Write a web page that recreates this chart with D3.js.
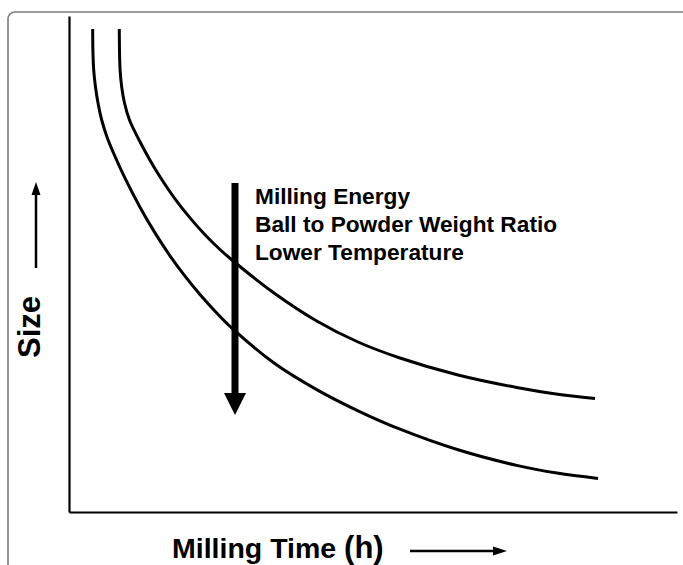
<!DOCTYPE html>
<html>
<head>
<meta charset="utf-8">
<script src="https://cdn.jsdelivr.net/npm/d3@7"></script>
<style>
html,body{margin:0;padding:0;background:#fff;}
svg{display:block;}
text{font-family:"Liberation Sans", Arial, sans-serif;font-weight:bold;fill:#000;}
</style>
</head>
<body>
<script>
const upperTime = [5.03, 5.05, 5.11, 5.27, 5.55, 6.05, 7.10, 8.10, 9.10, 10.60, 12.10, 13.60, 15.10, 16.30, 20.50, 24.77, 28.90, 33.10, 38.90, 44.77, 48.70, 52.60];
const upperSize = [48.30, 46.20, 44.20, 42.50, 40.90, 39.20, 37.02, 35.18, 33.52, 31.31, 29.41, 27.73, 26.25, 25.20, 21.90, 19.10, 17.00, 15.40, 13.70, 12.45, 11.80, 11.35];
const lowerTime = [2.37, 2.39, 2.47, 2.65, 2.90, 3.27, 3.80, 4.45, 5.60, 7.10, 8.60, 10.10, 11.60, 13.10, 14.70, 16.30, 20.50, 24.77, 28.90, 33.10, 38.90, 44.77, 48.80, 52.90];
const lowerSize = [48.30, 46.20, 44.20, 42.50, 40.90, 39.20, 37.50, 35.90, 33.38, 30.48, 27.91, 25.62, 23.58, 21.75, 19.98, 18.38, 14.90, 12.24, 10.12, 8.28, 6.22, 4.66, 3.89, 3.36];
const factorLabels = ["Milling Energy", "Ball to Powder Weight Ratio", "Lower Temperature"];
const arrowTime = 16.6, arrowFrom = 32.9, arrowTo = 9.7;
const xLabel = "Milling Time ", xUnit = "(h)", yLabel = "Size";

const W = 683, H = 565;
const svg = d3.select("body").append("svg").attr("width", W).attr("height", H);

// outer rounded frame
svg.append("rect").attr("x", 8).attr("y", 12).attr("width", 690).attr("height", 600)
  .attr("rx", 7).attr("fill", "none").attr("stroke", "#7a7a7a").attr("stroke-width", 1.6);

const x = d3.scaleLinear().domain([0, 60.8]).range([69, 677]);
const y = d3.scaleLinear().domain([0, 49.6]).range([512, 16]);

// axes (no ticks)
svg.append("g").attr("transform", `translate(0,${y(0)})`)
  .call(d3.axisBottom(x).tickValues([]).tickSizeOuter(0));
svg.append("g").attr("transform", `translate(${x(0)},0)`)
  .call(d3.axisLeft(y).tickValues([]).tickSizeOuter(0));
svg.selectAll(".domain").attr("stroke", "#000").attr("stroke-width", 2.2);

// curves
const line = d3.line().x(d => x(d[0])).y(d => y(d[1])).curve(d3.curveCatmullRom.alpha(0.5));
[[upperTime, upperSize], [lowerTime, lowerSize]].forEach(([t, s]) => {
  svg.append("path").datum(t.map((v, i) => [v, s[i]]))
    .attr("d", line).attr("fill", "none").attr("stroke", "#000")
    .attr("stroke-width", 3).attr("stroke-linecap", "butt");
});

// big downward arrow
const ax = x(arrowTime), headLen = 22, headW = 11;
svg.append("line").attr("x1", ax).attr("x2", ax).attr("y1", y(arrowFrom)).attr("y2", y(arrowTo) - headLen + 1)
  .attr("stroke", "#000").attr("stroke-width", 7);
svg.append("path").attr("d", `M${ax - headW},${y(arrowTo) - headLen} L${ax + headW},${y(arrowTo) - headLen} L${ax},${y(arrowTo)} Z`)
  .attr("fill", "#000");

// factor labels
svg.append("g").selectAll("text").data(factorLabels).join("text")
  .attr("x", 255).attr("y", (d, i) => 203.5 + i * 28.3)
  .attr("font-size", 22.7).text(d => d);

// x label
const xl = svg.append("text").attr("x", 172).attr("y", 558).attr("font-size", 28.5);
xl.append("tspan").text(xLabel);
xl.append("tspan").attr("font-size", 31).text(xUnit);
// right arrow
svg.append("line").attr("x1", 410).attr("x2", 495).attr("y1", 551).attr("y2", 551)
  .attr("stroke", "#000").attr("stroke-width", 2.5);
svg.append("path").attr("d", "M493,546.5 L507,551 L493,555.5 Z").attr("fill", "#000");

// y label
svg.append("text").attr("transform", "translate(40,327) rotate(-90)")
  .attr("text-anchor", "middle").attr("font-size", 31).text(yLabel);
// up arrow
svg.append("line").attr("x1", 36).attr("x2", 36).attr("y1", 268).attr("y2", 193)
  .attr("stroke", "#000").attr("stroke-width", 2.5);
svg.append("path").attr("d", "M31.5,195 L36,182 L40.5,195 Z").attr("fill", "#000");
</script>
</body>
</html>
